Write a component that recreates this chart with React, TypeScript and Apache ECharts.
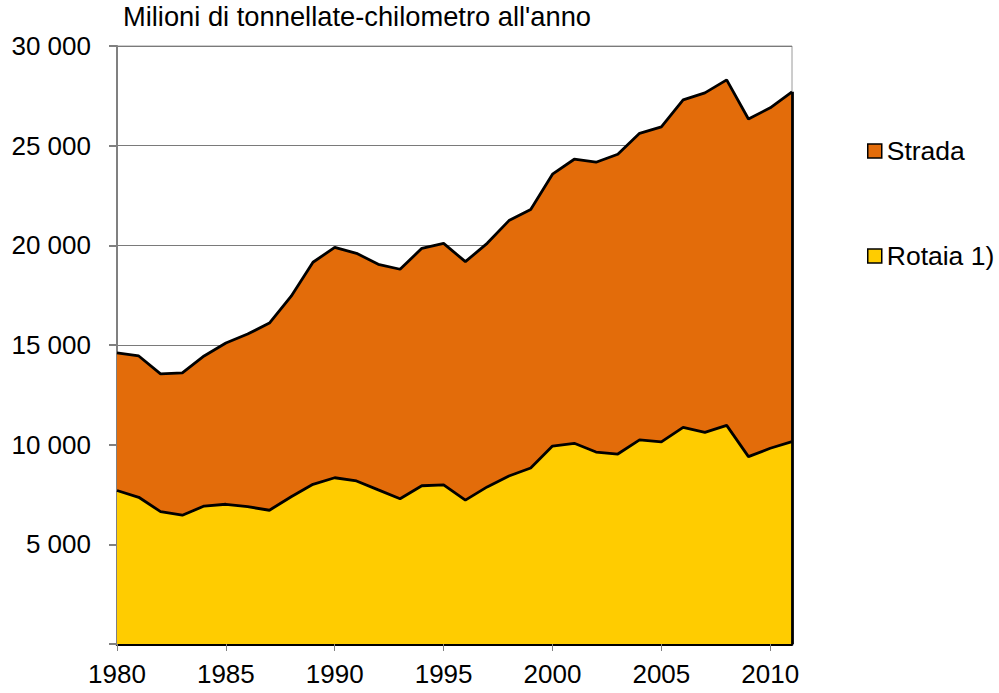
import React, { useEffect, useRef } from "react";
import * as echarts from "echarts";

const years = [
  "1980", "1981", "1982", "1983", "1984", "1985", "1986", "1987", "1988", "1989",
  "1990", "1991", "1992", "1993", "1994", "1995", "1996", "1997", "1998", "1999",
  "2000", "2001", "2002", "2003", "2004", "2005", "2006", "2007", "2008", "2009",
  "2010", "2011",
];

const rotaia = [
  7700, 7360, 6640, 6460, 6920, 7010, 6890, 6710, 7390, 8010,
  8340, 8180, 7730, 7290, 7940, 7980, 7220, 7880, 8430, 8830,
  9930, 10070, 9630, 9530, 10240, 10140, 10870, 10620, 10970, 9400,
  9820, 10150,
];

const strada = [
  6900, 7090, 6910, 7140, 7530, 8090, 8660, 9390, 10060, 11140,
  11560, 11420, 11320, 11510, 11910, 12120, 11960, 12220, 12810, 12970,
  13640, 14250, 14540, 15040, 15380, 15800, 16430, 17030, 17330, 16940,
  17080, 17550,
];

const titleText = "Milioni di tonnellate-chilometro all'anno";
const seriesNames = ["Strada", "Rotaia 1)"];

const FONT = "'Liberation Sans', Arial, sans-serif";

export default function App() {
  const ref = useRef<HTMLDivElement>(null);

  useEffect(() => {
    if (!ref.current) return;
    const chart = echarts.init(ref.current, null, { renderer: "svg" });
    const last = years.length - 1;
    const lastTotal = rotaia[last] + strada[last];
    chart.setOption({
      animation: false,
      backgroundColor: "#ffffff",
      textStyle: { fontFamily: FONT },
      title: {
        text: titleText,
        left: 123,
        top: 3,
        padding: 0,
        textStyle: { fontFamily: FONT, fontSize: 27.3, fontWeight: "normal", color: "#000" },
      },
      legend: {
        orient: "vertical",
        left: 867,
        top: 137,
        padding: 0,
        itemWidth: 14,
        itemHeight: 14,
        itemGap: 77,
        icon: "rect",
        data: seriesNames,
        itemStyle: { borderColor: "#000", borderWidth: 1.5 },
        textStyle: { fontFamily: FONT, fontSize: 26.5, color: "#000", lineHeight: 28, padding: [0, 0, 0, 0] },
      },
      grid: {
        left: 117,
        right: 207,
        top: 46,
        bottom: 49,
        show: true,
        borderColor: "#9a9a9a",
        borderWidth: 1,
        containLabel: false,
      },
      xAxis: {
        type: "category",
        data: years,
        boundaryGap: false,
        axisLine: { show: true, lineStyle: { color: "#000", width: 2.8 } },
        axisTick: {
          show: true,
          length: 7,
          interval: (i: number) => i % 5 === 0,
          lineStyle: { color: "#808080", width: 1 },
        },
        axisLabel: {
          interval: (i: number) => i % 5 === 0,
          fontFamily: FONT,
          fontSize: 26,
          color: "#000",
          margin: 17,
        },
        splitLine: { show: false },
      },
      yAxis: {
        type: "value",
        min: 0,
        max: 30000,
        interval: 5000,
        axisLine: { show: true, lineStyle: { color: "#808080", width: 2 } },
        axisTick: { show: true, length: 8, lineStyle: { color: "#808080", width: 2 } },
        axisLabel: {
          fontFamily: FONT,
          fontSize: 26,
          color: "#000",
          margin: 26,
          formatter: (v: number) => {
            if (v === 0) return "";
            const th = Math.floor(v / 1000);
            return th + " 000";
          },
        },
        splitLine: { show: true, lineStyle: { color: "#7a7a7a", width: 1 } },
      },
      series: [
        {
          name: "Rotaia 1)",
          type: "line",
          stack: "total",
          data: rotaia,
          symbol: "none",
          lineStyle: { color: "#000", width: 2.8 },
          itemStyle: { color: "#FFCC00" },
          areaStyle: { color: "#FFCC00", opacity: 1 },
          z: 3,
        },
        {
          name: "Strada",
          type: "line",
          stack: "total",
          data: strada,
          symbol: "none",
          lineStyle: { color: "#000", width: 2.8 },
          itemStyle: { color: "#E36C0A" },
          areaStyle: { color: "#E36C0A", opacity: 1 },
          z: 2,
          markLine: {
            silent: true,
            symbol: "none",
            label: { show: false },
            lineStyle: { color: "#000", width: 2.8, type: "solid" },
            data: [[{ coord: [years[last], 0] }, { coord: [years[last], lastTotal] }]],
          },
        },
      ],
    });
    return () => chart.dispose();
  }, []);

  return (
    <div
      ref={ref}
      style={{ position: "absolute", left: 0, top: 0, width: 999, height: 693 }}
    />
  );
}
